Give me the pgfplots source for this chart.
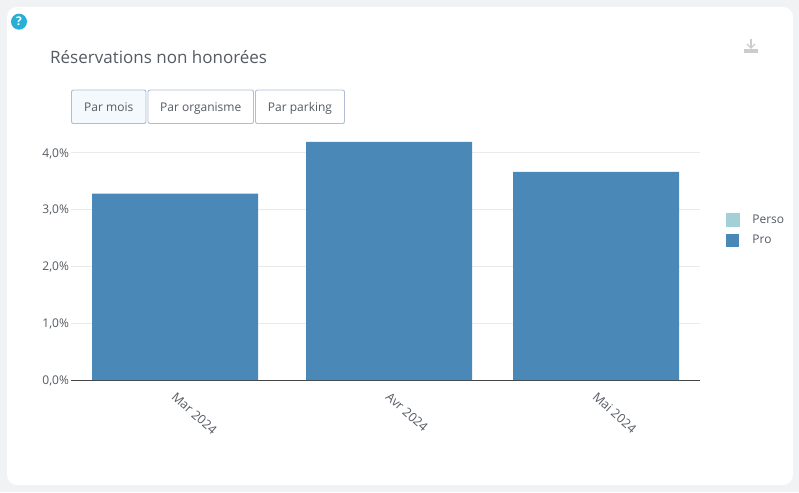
\documentclass[border=0pt]{standalone}
\usepackage{fontspec}
\setmainfont{Open Sans}
\usepackage{pgfplots}
\pgfplotsset{compat=1.18}
\definecolor{pagebg}{HTML}{F1F2F4}
\definecolor{txt}{HTML}{555B63}
\definecolor{btn}{HTML}{B0BDD4}
\definecolor{btnfill}{HTML}{F3F9FD}
\definecolor{pro}{HTML}{4A88B8}
\definecolor{perso}{HTML}{A3CFD6}
\definecolor{helpc}{HTML}{29AED4}
\definecolor{gridc}{HTML}{EAEAEA}
\definecolor{axisc}{HTML}{444444}
\begin{document}
\begin{tikzpicture}[x=1pt,y=1pt]
\useasboundingbox (0,0) rectangle (799,492);
\fill[pagebg] (0,0) rectangle (799,492);
\fill[white,rounded corners=10pt] (7,7) rectangle (793,485);
% help icon
\fill[helpc] (19,470.3) circle (8);
\node[text=white,font=\fontsize{12}{12}\selectfont\bfseries,inner sep=0pt] at (19,470.3) {?};
% title
\node[anchor=base west,inner sep=0pt,text=txt,font=\fontsize{17}{17}\selectfont] at (50,428) {Réservations non honorées};
% buttons
\draw[btn,line width=0.9pt,fill=btnfill,rounded corners=2pt] (71.5,368.5) rectangle (146,402);
\draw[btn,line width=0.9pt,fill=white,rounded corners=2pt] (148,368.5) rectangle (253.5,402);
\draw[btn,line width=0.9pt,fill=white,rounded corners=2pt] (255.5,368.5) rectangle (344.5,402);
\foreach \cx/\lab in {108.75/Par mois,200.75/Par organisme,300/Par parking}
  \node[anchor=base,inner sep=0pt,text=txt,font=\fontsize{12}{12}\selectfont] at (\cx,380) {\lab};
% download icon
\draw[gray!40,line width=1.2pt] (751,453) -- (751,444);
\draw[gray!40,line width=1.1pt] (747,448) -- (751,444) -- (755,448);
\fill[gray!40] (744,439) rectangle (758,443);
\begin{axis}[
  at={(71pt,112pt)},anchor=south west,
  scale only axis,width=629pt,height=238pt,
  xmin=71,xmax=700,ymin=0,ymax=4.19,
  axis y line=left,axis x line=bottom,
  axis line style={-},
  y axis line style={draw=none},
  x axis line style={axisc,line width=0.9pt},
  ytick={0,1,2,3,4},
  xtick={175,389,596},
  xticklabels={Mar 2024,Avr 2024,Mai 2024},
  major tick length=0pt,
  ymajorgrids,
  grid style={gridc,line width=0.7pt},
  /pgf/number format/assume math mode=true,
  /pgf/number format/.cd,fixed,fixed zerofill,precision=1,use comma,/tikz/.cd,
  yticklabel={\pgfmathprintnumber{\tick}\%},
  ticklabel style={text=txt,font=\fontsize{12}{12}\selectfont},
  yticklabel style={xshift=1.5pt,yshift=-0.8pt},
  xticklabel style={rotate=-42,anchor=north west,xshift=9pt,yshift=-7pt,inner sep=0pt,font=\fontsize{12.5}{12.5}\selectfont},
  clip=false,
  legend cell align=left,
  legend style={at={(1.0413,0.7017)},anchor=north west,draw=none,fill=none,inner sep=0pt,outer sep=0pt,
    font=\fontsize{12}{12}\selectfont,text=txt,row sep=6pt},
  legend image code/.code={\fill[#1] (0pt,-6.5pt) rectangle (13pt,6.5pt); \path (24pt,0pt);},
]
\addlegendimage{perso,fill=perso}
\addlegendentry{Perso}
\addplot[ybar,bar width=166pt,fill=pro,draw=none] coordinates {(175,3.28) (389,4.19) (596,3.665)};
\addlegendentry{Pro}
\end{axis}
\end{tikzpicture}
\end{document}
